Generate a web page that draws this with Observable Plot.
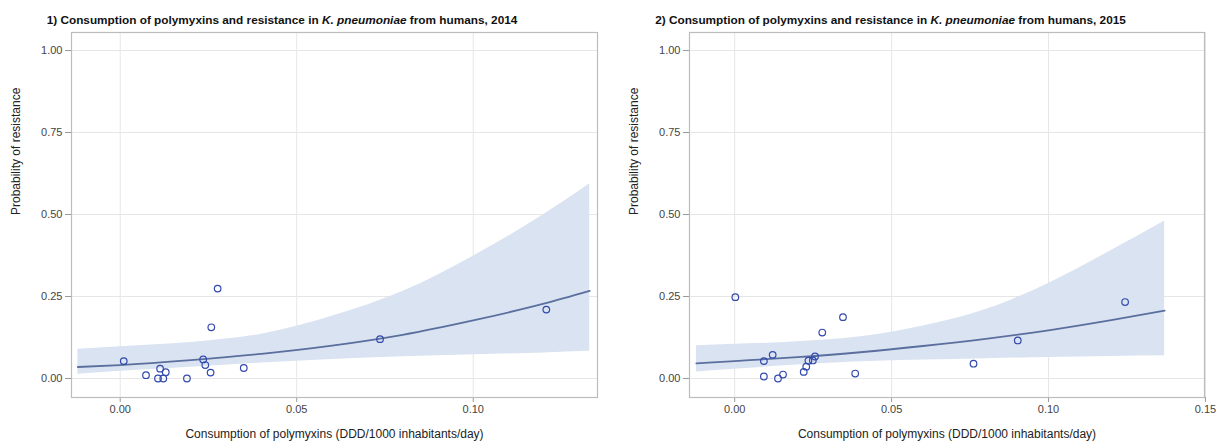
<!DOCTYPE html>
<html>
<head>
<meta charset="utf-8">
<script src="https://cdn.jsdelivr.net/npm/d3@7"></script>
<script src="https://cdn.jsdelivr.net/npm/@observablehq/plot@0.6"></script>
<style>
  html, body { margin: 0; padding: 0; background: #fff; }
  body { width: 1217px; height: 443px; overflow: hidden; font-family: "Liberation Sans", Arial, sans-serif; }
  #row { display: flex; width: 1217px; }
  .panel { width: 608px; }
  .panel + .panel { width: 609px; }
  .title { height: 28px; box-sizing: border-box; padding-top: 13px; padding-right: 44px;
           text-align: center; font-weight: bold; font-size: 11.8px; color: #111; line-height: 14px; white-space: nowrap; }
</style>
</head>
<body>
<div id="row"></div>
<script>
// ---- Panel 1 (2014) observed points ----
const p1PointX = [0.001, 0.0073, 0.0113, 0.0107, 0.0122, 0.0129, 0.0189, 0.0235, 0.0241, 0.0256, 0.0258, 0.0276, 0.035, 0.0736, 0.1207];
const p1PointY = [0.053, 0.010, 0.030, 0.000, 0.000, 0.019, 0.000, 0.058, 0.041, 0.018, 0.156, 0.274, 0.032, 0.120, 0.210];
// Panel 1 fitted curve and confidence band
const p1CurveX = [-0.012, 0, 0.02, 0.04, 0.06, 0.08, 0.10, 0.12, 0.133];
const p1Fit    = [0.035, 0.041, 0.056, 0.075, 0.100, 0.133, 0.177, 0.228, 0.267];
const p1Lower  = [0.013, 0.022, 0.034, 0.047, 0.058, 0.066, 0.072, 0.078, 0.083];
const p1Upper  = [0.089, 0.097, 0.110, 0.135, 0.190, 0.265, 0.373, 0.500, 0.594];

// ---- Panel 2 (2015) observed points ----
const p2PointX = [0.0002, 0.0093, 0.0121, 0.0093, 0.0138, 0.0154, 0.022, 0.0228, 0.0235, 0.0249, 0.0256, 0.0279, 0.0345, 0.0384, 0.0761, 0.0902, 0.1244];
const p2PointY = [0.248, 0.053, 0.072, 0.006, 0.000, 0.012, 0.020, 0.036, 0.054, 0.055, 0.067, 0.140, 0.187, 0.015, 0.045, 0.116, 0.233];
// Panel 2 fitted curve and confidence band
const p2CurveX = [-0.0122, 0, 0.02, 0.04, 0.06, 0.08, 0.10, 0.12, 0.137];
const p2Fit    = [0.046, 0.053, 0.065, 0.080, 0.099, 0.121, 0.147, 0.178, 0.207];
const p2Lower  = [0.020, 0.028, 0.041, 0.051, 0.056, 0.060, 0.064, 0.067, 0.069];
const p2Upper  = [0.100, 0.104, 0.112, 0.127, 0.160, 0.210, 0.290, 0.390, 0.480];

const yTicks = [0, 0.25, 0.5, 0.75, 1];
const p1XTicks = [0, 0.05, 0.10];
const p2XTicks = [0, 0.05, 0.10, 0.15];
const titles = [
  ["1) Consumption of polymyxins and resistance in ", "K. pneumoniae", " from humans, 2014"],
  ["2) Consumption of polymyxins and resistance in ", "K. pneumoniae", " from humans, 2015"]
];
const xLabel = "Consumption of polymyxins (DDD/1000 inhabitants/day)";
const yLabel = "Probability of resistance";

const panels = [
  {px: p1PointX, py: p1PointY, cx: p1CurveX, fit: p1Fit, lo: p1Lower, hi: p1Upper, xTicks: p1XTicks,
   xDomain: [-0.0138, 0.1352], width: 608, marginLeft: 71, marginRight: 11},
  {px: p2PointX, py: p2PointY, cx: p2CurveX, fit: p2Fit, lo: p2Lower, hi: p2Upper, xTicks: p2XTicks,
   xDomain: [-0.0144, 0.1497], width: 609, marginLeft: 81, marginRight: 13}
];

const fmt = d3.format(".2f");
const row = document.getElementById("row");

panels.forEach((p, i) => {
  const div = document.createElement("div");
  div.className = "panel";
  const t = document.createElement("div");
  t.className = "title";
  t.innerHTML = titles[i][0] + "<i>" + titles[i][1] + "</i>" + titles[i][2];
  div.appendChild(t);

  const pts = p.px.map((x, k) => ({x, y: p.py[k]}));
  const curve = p.cx.map((x, k) => ({x, fit: p.fit[k], lo: p.lo[k], hi: p.hi[k]}));

  const chart = Plot.plot({
    width: p.width,
    height: 415,
    marginTop: 4,
    marginBottom: 46,
    marginLeft: p.marginLeft,
    marginRight: p.marginRight,
    style: {fontFamily: '"Liberation Sans", Arial, sans-serif', fontSize: "11px", color: "#333", background: "#fff"},
    x: {domain: p.xDomain, ticks: p.xTicks, tickFormat: fmt},
    y: {domain: [-0.058, 1.055], ticks: yTicks, tickFormat: fmt},
    marks: [
      Plot.gridX(p.xTicks, {stroke: "#e6e6e6", strokeOpacity: 1}),
      Plot.gridY(yTicks, {stroke: "#e6e6e6", strokeOpacity: 1}),
      Plot.areaY(curve, {x: "x", y1: "lo", y2: "hi", fill: "#dae3f1", curve: "monotone-x"}),
      Plot.line(curve, {x: "x", y: "fit", stroke: "#5a6f9e", strokeWidth: 1.8, curve: "monotone-x"}),
      Plot.dot(pts, {x: "x", y: "y", r: 3.3, stroke: "#3149ad", strokeWidth: 1.2, fill: "none"}),
      Plot.axisX(p.xTicks, {tickFormat: fmt, tickSize: 5, tickPadding: 3, stroke: "#999", fill: "#444", fontSize: 11,
        label: null}),
      Plot.axisY(yTicks, {tickFormat: fmt, tickSize: 6, tickPadding: 3, stroke: "#999", fill: "#444", fontSize: 11,
        label: null}),
      Plot.text([xLabel], {frameAnchor: "bottom", dy: 40, fontSize: 12, fill: "#222"}),
      Plot.text([yLabel], {frameAnchor: "left", dx: -55, rotate: -90, fontSize: 12, fill: "#222"}),
      Plot.frame({stroke: "#bcbcbc", strokeWidth: 1.2})
    ]
  });
  div.appendChild(chart);
  row.appendChild(div);
});
</script>
</body>
</html>
